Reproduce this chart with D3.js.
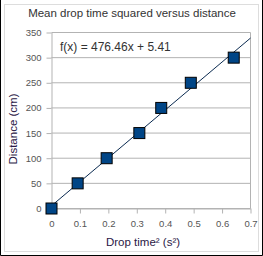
<!DOCTYPE html>
<html><head><meta charset="utf-8">
<script src="https://cdn.jsdelivr.net/npm/d3@7"></script>
<style>body{margin:0;background:#fff}svg{display:block}</style>
</head><body>
<script>
const dropTime2 = [0, 0.092, 0.194, 0.309, 0.386, 0.49, 0.641];
const distance = [0, 50, 100, 150, 200, 250, 300];
const xTicks = [0, 0.1, 0.2, 0.3, 0.4, 0.5, 0.6, 0.7];
const yTicks = [0, 50, 100, 150, 200, 250, 300, 350];
const slope = 476.46, intercept = 5.41;
const title = "Mean drop time squared versus distance";
const xTitle = "Drop time² (s²)";
const yTitle = "Distance (cm)";
const eqText = "f(x) = 476.46x + 5.41";

const W = 263, H = 256;
const svg = d3.select("body").append("svg").attr("width", W).attr("height", H);
svg.append("rect").attr("width", W).attr("height", H).attr("fill", "#fff");
svg.append("rect").attr("x", 4.5).attr("y", 4.5).attr("width", 254).attr("height", 247)
  .attr("fill", "none").attr("stroke", "#ddd");
svg.append("path").attr("d", `M0.5,0 V${H-0.5} H${W-0.5} V0`).attr("fill", "none").attr("stroke", "#000");

const x = d3.scaleLinear().domain([0, 0.7]).range([51.5, 250.5]);
const y = d3.scaleLinear().domain([0, 350]).range([208.5, 32.5]);
const font = "'Liberation Sans', Arial, sans-serif";

// grid
svg.append("g").selectAll("line").data(yTicks).join("line")
  .attr("x1", x(0)).attr("x2", x(0.7)).attr("y1", d => y(d)).attr("y2", d => y(d))
  .attr("stroke", "#b3b3b3");
svg.append("line").attr("x1", x(0.7)).attr("x2", x(0.7)).attr("y1", y(0)).attr("y2", y(350)).attr("stroke", "#b3b3b3");

const xAxis = svg.append("g").attr("transform", `translate(0,${y(0)})`)
  .call(d3.axisBottom(x).tickValues(xTicks).tickSize(5).tickSizeOuter(0).tickFormat(d => d3.format("")(d)));
const yAxis = svg.append("g").attr("transform", `translate(${x(0)},0)`)
  .call(d3.axisLeft(y).tickValues(yTicks).tickSize(5).tickSizeOuter(0));
[xAxis, yAxis].forEach(g => {
  g.select(".domain").attr("stroke", "#b3b3b3");
  g.selectAll(".tick line").attr("stroke", "#b3b3b3");
  g.selectAll("text").attr("fill", "#555").attr("font-family", font).attr("font-size", 9.5);
});
xAxis.selectAll("text").attr("dy", "0.71em").attr("y", 12);
yAxis.selectAll("text").attr("x", -10);

// trend line
svg.append("line").attr("x1", x(0)).attr("y1", y(intercept)).attr("x2", x(0.7)).attr("y2", y(intercept + slope * 0.7))
  .attr("stroke", "#0a2a50").attr("stroke-width", 1);

// points
const s = 11;
svg.append("g").selectAll("rect").data(dropTime2).join("rect")
  .attr("x", d => x(d) - s / 2).attr("y", (d, i) => y(distance[i]) - s / 2)
  .attr("width", s).attr("height", s).attr("fill", "#004586").attr("stroke", "#000").attr("stroke-width", 1);

svg.append("text").attr("x", 60).attr("y", 51).text(eqText)
  .attr("font-family", font).attr("font-size", 12).attr("fill", "#333");
svg.append("text").attr("x", 132).attr("y", 17).attr("text-anchor", "middle").text(title)
  .attr("font-family", font).attr("font-size", 11.5).attr("fill", "#333");
svg.append("text").attr("x", 143).attr("y", 246).attr("text-anchor", "middle").text(xTitle)
  .attr("font-family", font).attr("font-size", 11.5).attr("fill", "#2a1846");
svg.append("text").attr("transform", `translate(17,129) rotate(-90)`).attr("text-anchor", "middle").text(yTitle)
  .attr("font-family", font).attr("font-size", 11.5).attr("fill", "#2a1846");
</script>
</body></html>
